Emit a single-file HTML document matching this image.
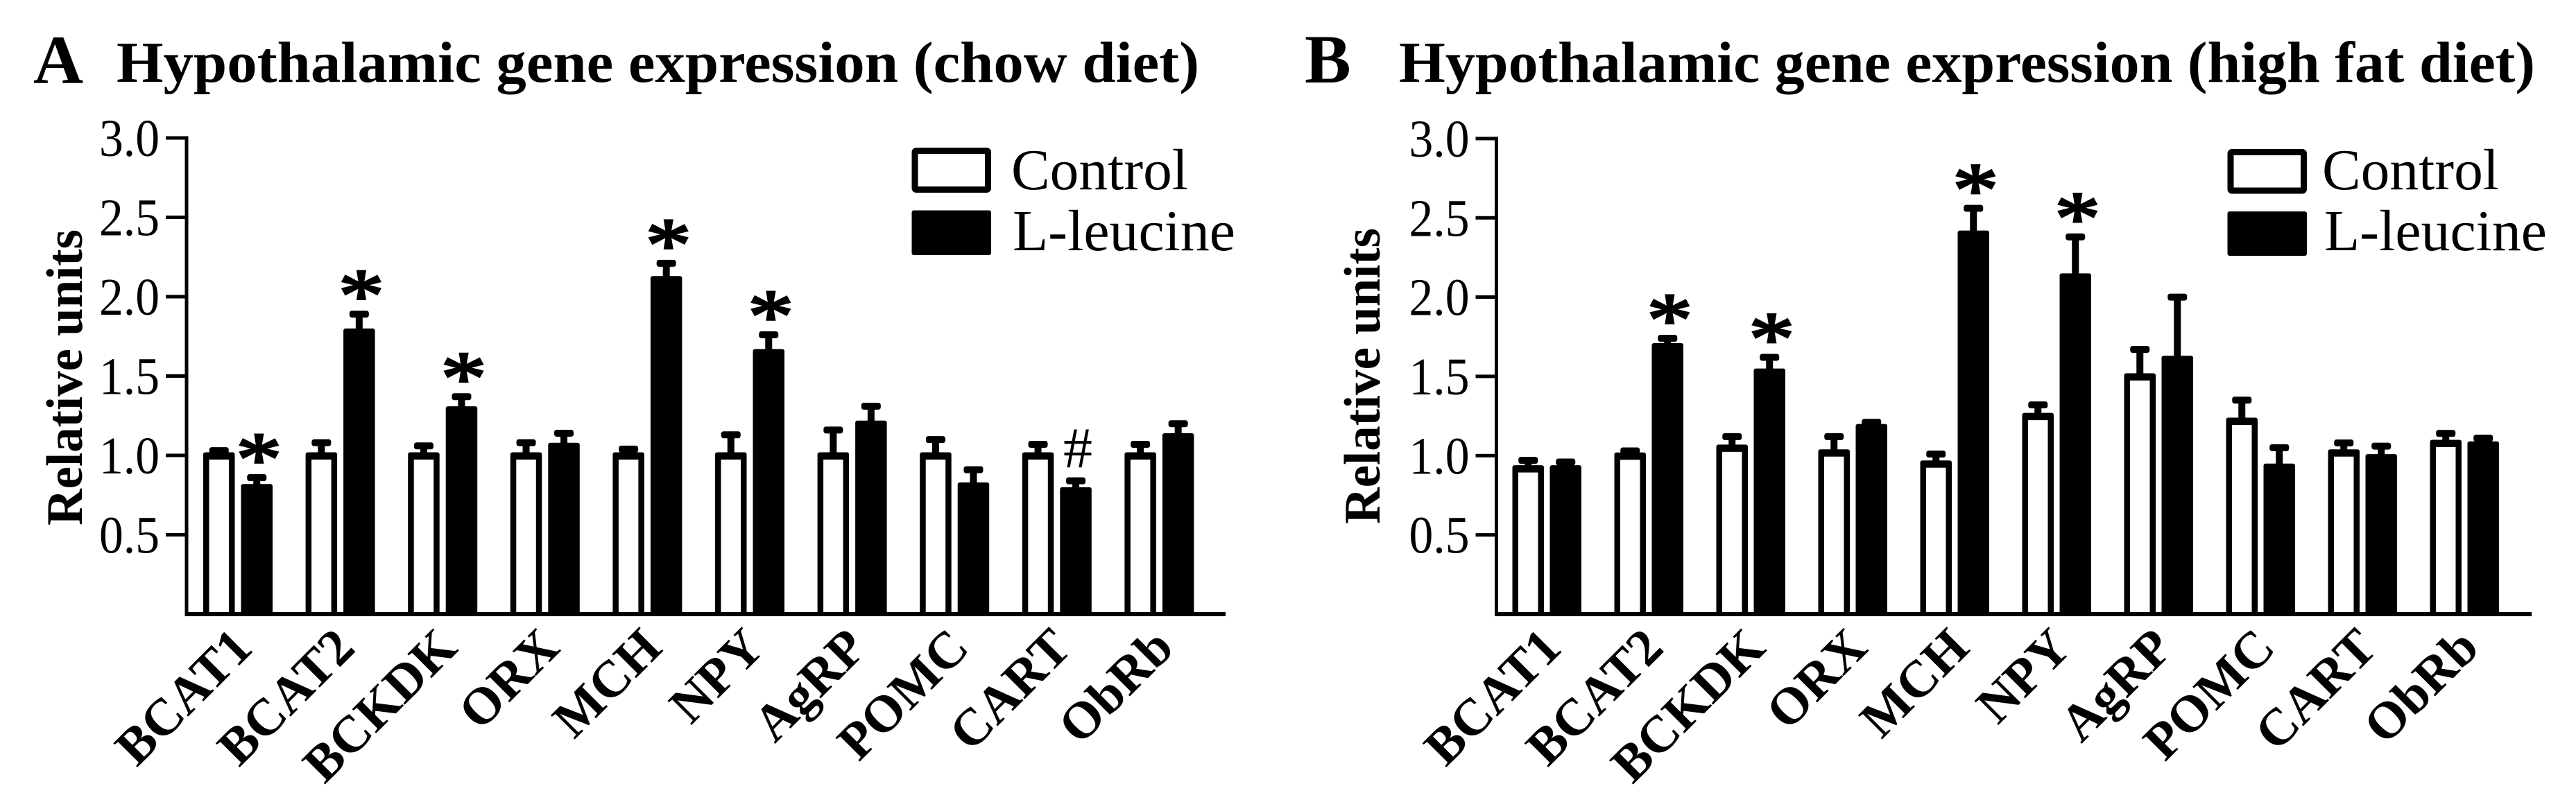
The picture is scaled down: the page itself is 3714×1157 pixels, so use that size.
<!DOCTYPE html>
<html lang="en">
<head>
<meta charset="utf-8">
<title>Hypothalamic gene expression</title>
<style>
html,body{margin:0;padding:0;background:#fff;}
svg{display:block;}
text{font-family:"Liberation Serif",serif;fill:#000;}
.title{font-weight:bold;font-size:84px;}
.letter{font-weight:bold;font-size:100px;}
.tick{font-size:76px;}
.ytitle{font-weight:bold;font-size:74px;}
.xlab{font-weight:bold;font-size:75px;}
.leg{font-size:84px;}
</style>
</head>
<body>
<svg id="figure" xmlns="http://www.w3.org/2000/svg" width="3714" height="1157" viewBox="0 0 3714 1157">
  <rect x="0" y="0" width="3714" height="1157" fill="#fff"/>

  <text class="letter" x="48" y="120">A</text>
  <text class="title" x="168" y="118" textLength="1561" lengthAdjust="spacingAndGlyphs">Hypothalamic gene expression (chow diet)</text>
  <text class="ytitle" transform="translate(118,758) rotate(-90)" textLength="427" lengthAdjust="spacingAndGlyphs">Relative units</text>
  <g id="panel-a"></g>
  <g>
    <rect x="1319" y="217.5" width="105.500" height="56" fill="#fff" stroke="#000" stroke-width="9" rx="2"/>
    <text class="leg" x="1458" y="273" textLength="255" lengthAdjust="spacingAndGlyphs">Control</text>
    <rect x="1314.500" y="303.500" width="114.500" height="64.500" fill="#000" rx="3"/>
    <text class="leg" x="1460" y="361" textLength="321" lengthAdjust="spacingAndGlyphs">L-leucine</text>
  </g>

  <text class="letter" x="1881" y="119">B</text>
  <text class="title" x="2017" y="118" textLength="1638" lengthAdjust="spacingAndGlyphs">Hypothalamic gene expression (high fat diet)</text>
  <text class="ytitle" transform="translate(1989,756) rotate(-90)" textLength="427" lengthAdjust="spacingAndGlyphs">Relative units</text>
  <g id="panel-b"></g>
  <g>
    <rect x="3216" y="219.5" width="105.500" height="55.500" fill="#fff" stroke="#000" stroke-width="9" rx="2"/>
    <text class="leg" x="3348" y="273" textLength="255" lengthAdjust="spacingAndGlyphs">Control</text>
    <rect x="3211.500" y="305" width="114.500" height="64" fill="#000" rx="3"/>
    <text class="leg" x="3351" y="361" textLength="321" lengthAdjust="spacingAndGlyphs">L-leucine</text>
  </g>
</svg>
<script>
const categories = ["BCAT1","BCAT2","BCKDK","ORX","MCH","NPY","AgRP","POMC","CART","ObRb"];
const yTickValues = [0.5, 1.0, 1.5, 2.0, 2.5, 3.0];
const yTickLabels = ["0.5", "1.0", "1.5", "2.0", "2.5", "3.0"];

const chowControl = [1.00,1.00,1.00,1.00,1.00,1.00,1.00,1.00,1.00,1.00];
const chowControlUpper = [1.03,1.08,1.06,1.08,1.04,1.13,1.16,1.10,1.07,1.07];
const chowLeucine = [0.80,1.78,1.29,1.06,2.11,1.65,1.20,0.81,0.78,1.12];
const chowLeucineUpper = [0.86,1.89,1.37,1.14,2.21,1.76,1.31,0.91,0.84,1.20];
const chowStars = ["*","*","*","","*","*","","","#",""];

const hfdControl = [0.92,1.00,1.05,1.02,0.95,1.25,1.50,1.22,1.02,1.08];
const hfdControlUpper = [0.97,1.03,1.12,1.12,1.01,1.32,1.67,1.35,1.08,1.14];
const hfdLeucine = [0.92,1.69,1.53,1.18,2.40,2.13,1.61,0.93,0.99,1.07];
const hfdLeucineUpper = [0.96,1.74,1.62,1.21,2.56,2.38,2.00,1.05,1.06,1.11];
const hfdStars = ["","*","*","","*","*","","","",""];

const SVGNS = "http://www.w3.org/2000/svg";

function shape(parent, tag, attrs, text) {
  const el = document.createElementNS(SVGNS, tag);
  for (const k in attrs) el.setAttribute(k, attrs[k]);
  if (text !== undefined) el.textContent = text;
  parent.appendChild(el);
  return el;
}

function drawPanel(rootId, cfg) {
  const root = document.getElementById(rootId);
  const yScale = v => cfg.yZero - cfg.yUnit * v;
  const barX = (i, series) => cfg.firstBar + cfg.pitch * i + (series === 1 ? cfg.seriesOffset : 0);
  const barW = 45.5;

  const yAxis = shape(root, "rect", {x: cfg.axisX - 2.5, y: yScale(3) - 2.5, width: 5, height: cfg.yZero - yScale(3) + 5, fill: "#000"});
  
  

  const xAxis = shape(root, "rect", {x: cfg.axisX - 2.5, y: cfg.yZero - 3, width: cfg.axisEnd - cfg.axisX + 2.5, height: 6, fill: "#000"});
  
  

  yTickValues.forEach((v, i) => {
    const t = shape(root, "rect", {x: cfg.axisX - 30, y: yScale(v) - 2.5, width: 30, height: 5, fill: "#000"});
    
    
    const l = shape(root, "text", {class: "tick", x: cfg.axisX - 126, y: yScale(v) + 26, textLength: 87, lengthAdjust: "spacingAndGlyphs"}, yTickLabels[i]);
    
    
  });

  categories.forEach((cat, i) => {
    [[cfg.control, cfg.controlUpper, 0], [cfg.leucine, cfg.leucineUpper, 1]].forEach(([means, uppers, s]) => {
      const x = barX(i, s);
      const cx = x + barW / 2;
      const top = yScale(means[i]);
      const up = yScale(uppers[i]);

      const stem = shape(root, "rect", {x: cx - 5, y: up, width: 10, height: Math.max(0, top - up), fill: "#000"});
      
      
      const cap = shape(root, "rect", {x: cx - 14, y: up - 5, width: 28, height: 10, rx: 3.5, fill: "#000"});
      
      

      const bar = shape(root, "rect", {x: x, y: top - 4.5, width: barW, height: cfg.yZero - top + 4.5, rx: 3, fill: "#000"});
      
      
      if (!s) {
        const inner = shape(root, "rect", {x: x + 8.5, y: top + 6, width: barW - 17, height: cfg.yZero - top - 9, fill: "#fff"});
        
        
      }
    });

    const mark = cfg.stars[i];
    if (mark) {
      const cx = barX(i, 1) + barW / 2 + 3;
      const capTop = yScale(cfg.leucineUpper[i]) - 5;
      let m;
      if (mark === "*") {
        m = shape(root, "text", {
          "font-size": 110,
          "text-anchor": "middle",
          stroke: "#000",
          "stroke-width": 3,
          transform: "translate(" + cx + "," + (capTop - 15 + 30) + ") scale(1.2,1)"
        }, "*");
        
      } else {
        m = shape(root, "text", {
          "font-size": 84,
          "text-anchor": "middle",
          x: cx,
          y: capTop - 14
        }, "#");
        
      }
      
    }

    const groupCenter = (barX(i, 0) + barX(i, 1) + barW) / 2;
    const lab = shape(root, "text", {
      class: "xlab",
      "text-anchor": "end",
      transform: "translate(" + (groupCenter + 24) + "," + cfg.labelY + ") rotate(-45)"
    }, cat);
    
    
  });
}

drawPanel("panel-a", {
  axisX: 269, axisEnd: 1767, yZero: 886, yUnit: 229,
  firstBar: 293, pitch: 147.6, seriesOffset: 54.5, labelY: 938,
  control: chowControl, controlUpper: chowControlUpper,
  leucine: chowLeucine, leucineUpper: chowLeucineUpper, stars: chowStars
});
drawPanel("panel-b", {
  axisX: 2157.5, axisEnd: 3650, yZero: 886, yUnit: 228.7,
  firstBar: 2180.5, pitch: 147, seriesOffset: 54, labelY: 938,
  control: hfdControl, controlUpper: hfdControlUpper,
  leucine: hfdLeucine, leucineUpper: hfdLeucineUpper, stars: hfdStars
});
</script>
</body>
</html>
